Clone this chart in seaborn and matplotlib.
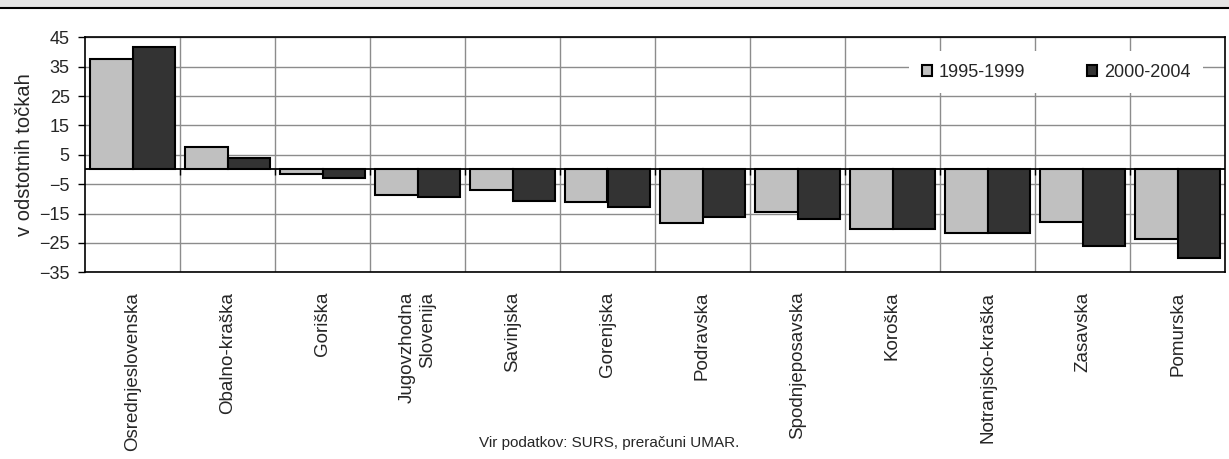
import matplotlib
matplotlib.use('Agg')
import matplotlib.pyplot as plt
from matplotlib.patches import Rectangle
from matplotlib.lines import Line2D
from matplotlib.ticker import FixedLocator
import seaborn as sns
import pandas as pd
import numpy as np

# podatki (odčitani s slike)
regije = ['Osrednjeslovenska', 'Obalno-kraška', 'Goriška', 'Jugovzhodna\nSlovenija',
          'Savinjska', 'Gorenjska', 'Podravska', 'Spodnjeposavska', 'Koroška',
          'Notranjsko-kraška', 'Zasavska', 'Pomurska']
obdobje_1995_1999 = [37.5, 7.7, -1.5, -8.6, -7.0, -11.2, -18.2, -14.6, -20.2, -21.6, -18.0, -23.6]
obdobje_2000_2004 = [41.8, 4.0, -3.0, -9.2, -10.6, -12.6, -16.3, -16.8, -20.2, -21.6, -25.9, -30.1]
obdobja = ['1995-1999', '2000-2004']
y_ticks = [-35, -25, -15, -5, 5, 15, 25, 35, 45]

df = pd.DataFrame({
    'regija': regije * 2,
    'vrednost': obdobje_1995_1999 + obdobje_2000_2004,
    'obdobje': [obdobja[0]] * len(regije) + [obdobja[1]] * len(regije),
})

sns.set_style('white')
plt.rcParams['font.family'] = ['Liberation Sans', 'DejaVu Sans']

W, H = 1229, 459
fig = plt.figure(figsize=(W / 100, H / 100), dpi=100)
ax = fig.add_axes([85 / W, 1 - 272.3 / H, 1140 / W, 235 / H])

sns.barplot(data=df, x='regija', y='vrednost', hue='obdobje',
            palette=['#c0c0c0', '#333333'], width=0.9, saturation=1,
            edgecolor='black', linewidth=1.5, ax=ax, zorder=3)

n = len(regije)
ax.set_xlim(-0.5, n - 0.5)
ax.set_ylim(-35, 45)
ax.set_yticks(y_ticks)
ax.set_axisbelow(True)

# mreža
ax.xaxis.set_minor_locator(FixedLocator(np.arange(0.5, n - 0.5, 1)))
ax.grid(True, axis='y', which='major', color='#8c8c8c', linewidth=1)
ax.grid(True, axis='x', which='minor', color='#8c8c8c', linewidth=1)
ax.tick_params(axis='x', which='both', length=0, pad=14, labelsize=13.5)
ax.tick_params(axis='y', which='major', direction='out', length=5, width=1,
               color='black', pad=6, labelsize=13, left=True)

for lab in ax.get_xticklabels():
    lab.set_rotation(90)
    lab.set_multialignment('right')

# ničelna os s kljukicami
ax.axhline(0, color='black', linewidth=1.3, zorder=4)
ax.vlines(np.arange(0.5, n - 0.5, 1), -1.8, 0, color='black', linewidth=1, zorder=4)

for s in ax.spines.values():
    s.set_color('black')
    s.set_linewidth(1.2)

ax.set_xlabel('')
ax.set_ylabel('v odstotnih točkah', fontsize=14.5, labelpad=4)

ax.legend(title=None, ncol=2, loc='center', bbox_to_anchor=(0.852, 0.852),
          fontsize=13, frameon=True, facecolor='white', edgecolor='none',
          framealpha=1, fancybox=False, handlelength=0.55, handleheight=0.55,
          handletextpad=0.4, columnspacing=3.4, borderpad=0.7)

fig.text(609 / W, 1 - 443 / H, 'Vir podatkov: SURS, preračuni UMAR.',
         ha='center', va='center', fontsize=11)

# siv trak na vrhu
fig.add_artist(Rectangle((0, 1 - 7.5 / H), 1, 7.5 / H, transform=fig.transFigure,
                         facecolor='#e4e4e4', edgecolor='none'))
fig.add_artist(Line2D([0, 1], [1 - 8 / H, 1 - 8 / H], transform=fig.transFigure,
                      color='black', linewidth=1.5))

fig.savefig('out.png', dpi=100)
